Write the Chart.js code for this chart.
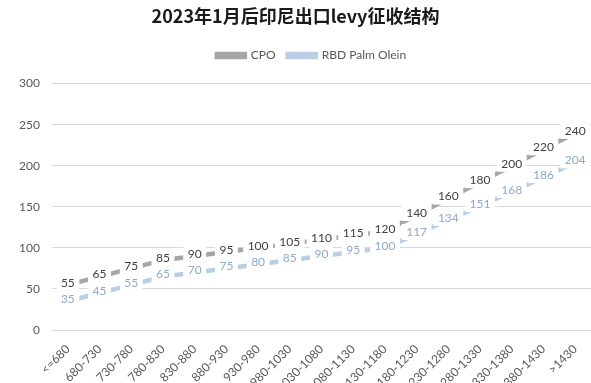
<!DOCTYPE html>
<html>
<head>
<meta charset="utf-8">
<script src="https://cdn.jsdelivr.net/npm/chart.js@4/dist/chart.umd.min.js"></script>
<style>
  html, body { margin: 0; padding: 0; background: #fff; }
  #wrap { width: 591px; height: 383px; position: relative; }
</style>
</head>
<body>
<div id="wrap"><canvas id="c" width="591" height="383"></canvas></div>
<script>
// Price bands (USD/t) and the export levy applied in each band
const bands = ['<=680','680-730','730-780','780-830','830-880','880-930','930-980','980-1030',
  '1030-1080','1080-1130','1130-1180','1180-1230','1230-1280','1280-1330','1330-1380','1380-1430','>1430'];
const cpoLevy = [55, 65, 75, 85, 90, 95, 100, 105, 110, 115, 120, 140, 160, 180, 200, 220, 240];
const oleinLevy = [35, 45, 55, 65, 70, 75, 80, 85, 90, 95, 100, 117, 134, 151, 168, 186, 204];
const yTicks = [0, 50, 100, 150, 200, 250, 300];

const FONT = "Lato, 'Noto Sans', sans-serif";
const labelColors = ['#404040', '#8EA9CB'];

// Value labels drawn on each point with a white box behind them
const valueLabels = {
  id: 'valueLabels',
  afterDatasetsDraw(chart) {
    const ctx = chart.ctx;
    ctx.save();
    ctx.font = "12px " + FONT;
    ctx.textAlign = 'center';
    ctx.textBaseline = 'middle';
    chart.data.datasets.forEach((ds, di) => {
      const meta = chart.getDatasetMeta(di);
      meta.data.forEach((pt, i) => {
        const txt = String(ds.data[i]);
        const w = ctx.measureText(txt).width + 9;
        const h = 16;
        const x = pt.x, y = pt.y - 2;
        ctx.fillStyle = '#ffffff';
        ctx.fillRect(x - w / 2, y - h / 2, w, h);
        ctx.fillStyle = labelColors[di];
        ctx.fillText(txt, x, y);
      });
    });
    ctx.restore();
  }
};

// Extra space between the legend and the plot area, and legend centred over the plot
const legendGap = {
  id: 'legendGap',
  beforeLayout(chart) {
    const lg = chart.legend;
    if (lg && !lg._gapWrapped) {
      const fit = lg.fit.bind(lg);
      lg.fit = function () { fit(); this.height += 12; };
      lg._gapWrapped = true;
    }
  },
  afterLayout(chart) {
    const lg = chart.legend;
    if (lg) { lg.left += 16; lg.right += 16; }
  }
};

new Chart(document.getElementById('c'), {
  type: 'line',
  data: {
    labels: bands,
    datasets: [
      { label: 'CPO', data: cpoLevy, borderColor: '#A6A6A6', backgroundColor: '#A6A6A6',
        borderWidth: 4.5, pointRadius: 0, tension: 0 },
      { label: 'RBD Palm Olein', data: oleinLevy, borderColor: '#B9CDE5', backgroundColor: '#B9CDE5',
        borderWidth: 4.5, pointRadius: 0, tension: 0 }
    ]
  },
  plugins: [valueLabels, legendGap],
  options: {
    responsive: false,
    animation: false,
    layout: { padding: { left: 0, right: 0, top: 5, bottom: 0 } },
    plugins: {
      title: {
        display: true,
        text: '2023年1月后印尼出口levy征收结构',
        color: '#1a1a1a',
        font: { family: "'Noto Sans CJK SC', " + FONT, size: 18, weight: 'bold' },
        padding: { top: 0, bottom: 11 }
      },
      legend: {
        position: 'top',
        labels: {
          color: '#595959',
          font: { family: FONT, size: 12 },
          boxWidth: 28,
          boxHeight: 3,
          padding: 12
        }
      },
      tooltip: { enabled: false }
    },
    scales: {
      x: {
        offset: true,
        grid: { display: false },
        border: { display: false },
        afterFit(axis) { axis.height = 53; },
        ticks: {
          color: '#595959',
          font: { family: FONT, size: 12 },
          minRotation: 45,
          maxRotation: 45,
          autoSkip: false,
          padding: 4
        }
      },
      y: {
        min: 0,
        max: 300,
        afterBuildTicks(axis) { axis.ticks = yTicks.map(v => ({ value: v })); },
        afterFit(axis) { axis.width = 52; },
        grid: { color: '#D9D9D9', lineWidth: 1, drawTicks: false },
        border: { display: false },
        ticks: {
          color: '#595959',
          font: { family: FONT, size: 12 },
          padding: 12
        }
      }
    }
  }
});
</script>
</body>
</html>
